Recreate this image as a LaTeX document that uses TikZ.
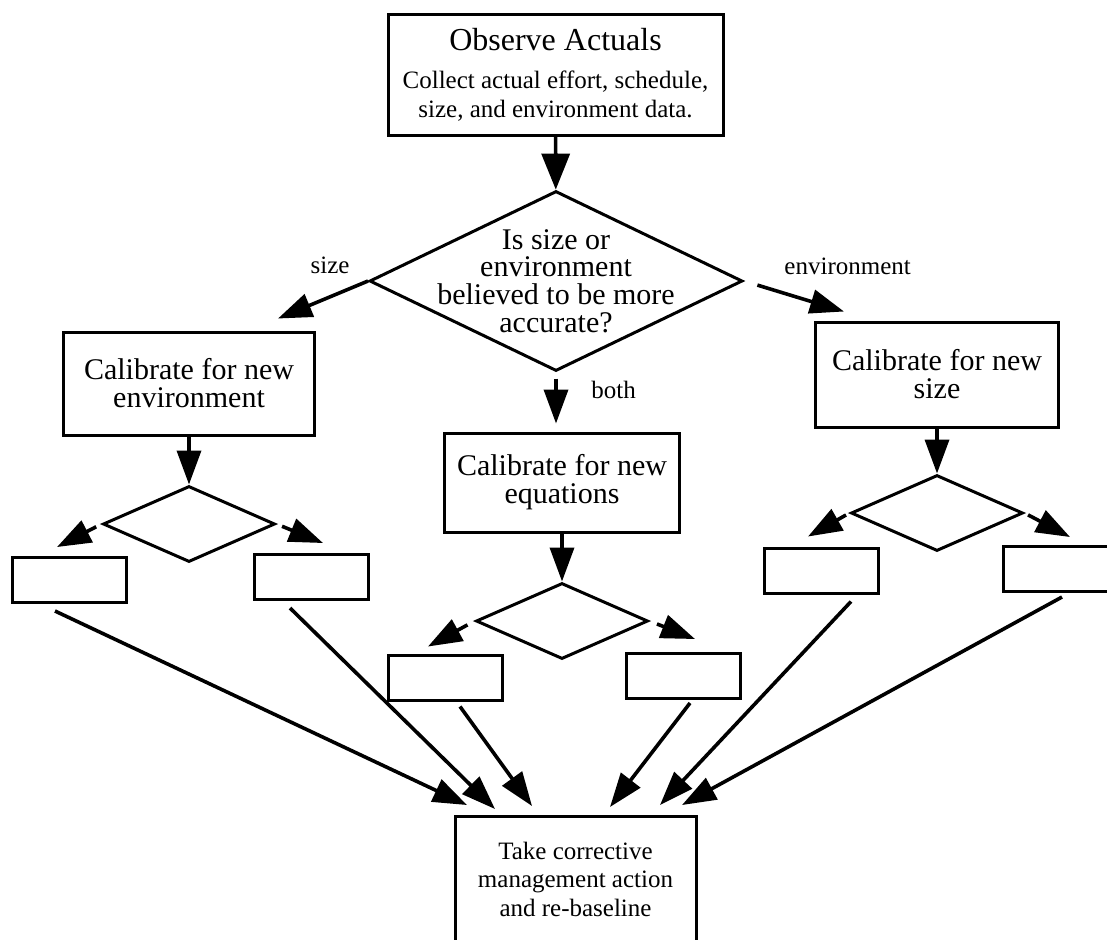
\documentclass[tikz,border=0pt]{standalone}
\usepackage{fontspec}
\setmainfont{Liberation Serif}
\usetikzlibrary{arrows.meta,shapes.geometric}

\begin{document}
\begin{tikzpicture}[x=0.5pt, y=-0.5pt,
  every node/.style={font=\fontsize{12.5}{14.25}\selectfont},
  box/.style={draw, line width=1.5pt, inner sep=0pt, align=center},
  calbox/.style={box, font=\fontsize{15}{14}\selectfont},
  emptybox/.style={box, minimum width=57pt, minimum height=22.5pt},
  decision/.style={draw, diamond, line width=1.5pt, inner sep=0pt},
  smalldec/.style={decision, minimum width=86pt, minimum height=38pt},
  arr/.style={-{Triangle[length=17pt,width=12pt]}, line width=1.8pt},
  lbl/.style={font=\fontsize{12.5}{14}\selectfont}]
  \useasboundingbox (0,0) rectangle (1107,939);
  % top box and main question
  \node[box, minimum width=167.5pt, minimum height=60.5pt] (obs) at (555.5,74.5)
    {{\fontsize{16}{16}\selectfont Observe Actuals}\\[5pt]Collect actual effort, schedule,\\size, and environment data.};
  \node[decision, minimum width=186.5pt, minimum height=90pt,
    label={[align=center, font=\fontsize{15}{13.8}\selectfont]center:{Is size or\\environment\\believed to be more\\accurate?}}] (q) at (556,281) {};
  % calibration boxes
  \node[calbox, minimum width=125.5pt, minimum height=51.5pt] (calenv) at (189,383.5) {Calibrate for new\\environment};
  \node[calbox, minimum width=117.5pt, minimum height=49.5pt] (caleq) at (562,482.5) {Calibrate for new\\equations};
  \node[calbox, minimum width=121.5pt, minimum height=52.5pt] (calsize) at (937,374.5) {Calibrate for new\\size};
  % small decisions
  \node[smalldec] (dL) at (189,524) {};
  \node[smalldec] (dM) at (562,621) {};
  \node[smalldec] (dR) at (937,513) {};
  % empty outcome boxes
  \node[emptybox] (L1) at (69,580) {};
  \node[emptybox] (L2) at (311.5,577) {};
  \node[emptybox] (M1) at (445,677.5) {};
  \node[emptybox] (M2) at (683.5,676) {};
  \node[emptybox] (R1) at (821,570.5) {};
  \node[emptybox] (R2) at (1060,569) {};
  % final action
  \node[box, minimum width=120.5pt, minimum height=62.5pt] (act) at (575.5,879)
    {Take corrective\\management action\\and re-baseline};
  % arrows
  \draw[arr, -{Triangle[length=18pt,width=14pt]}] (obs) -- (q);
  \draw[arr] (q.west) -- ([shift={(-19pt,6pt)}]calenv.north east)
    node[lbl, pos=0, anchor=base east, xshift=-5pt, yshift=4pt] {size};
  \draw[arr, shorten <=7pt] (q.east) -- ([shift={(15pt,4.5pt)}]calsize.north west)
    node[lbl, pos=0, anchor=base west, xshift=16pt, yshift=3.5pt] {environment};
  \draw[arr, shorten <=3pt, shorten >=4pt] (q.south) -- (q.south |- caleq.north)
    node[lbl, pos=0, anchor=base west, xshift=13.5pt, yshift=-13pt] {both};
  \draw[arr] (calenv) -- (dL);
  \draw[arr] (caleq) -- (dM);
  \draw[arr] (calsize) -- (dR);
  \draw[arr, shorten <=3pt] (dL.west) -- ([shift={(-6pt,4.5pt)}]L1.north);
  \draw[arr, shorten <=3pt] (dL.east) -- ([shift={(5.75pt,5pt)}]L2.north);
  \draw[arr, shorten <=4pt] (dM.west) -- ([shift={(-8.5pt,3.5pt)}]M1.north);
  \draw[arr, shorten <=4pt] (dM.east) -- ([shift={(5.75pt,6.5pt)}]M2.north);
  \draw[arr, shorten <=2pt] (dR.west) -- ([shift={(-6.5pt,5pt)}]R1.north);
  \draw[arr, shorten <=2pt] (dR.east) -- ([shift={(5pt,4pt)}]R2.north);
  \draw[arr] ([shift={(-7pt,-3.5pt)}]L1.south) -- ([shift={(-54.25pt,5pt)}]act.north);
  \draw[arr] ([shift={(-10.75pt,-3.5pt)}]L2.south) -- ([shift={(-40.25pt,3pt)}]act.north);
  \draw[arr] ([shift={(7.5pt,-2.5pt)}]M1.south) -- ([shift={(-21.75pt,4.5pt)}]act.north);
  \draw[arr] ([shift={(3.25pt,-1.5pt)}]M2.south) -- ([shift={(17.25pt,4pt)}]act.north);
  \draw[arr] ([shift={(15pt,-3.5pt)}]R1.south) -- ([shift={(42.25pt,5pt)}]act.north);
  \draw[arr] ([shift={(1pt,-2pt)}]R2.south) -- ([shift={(53.25pt,5pt)}]act.north);
\end{tikzpicture}
\end{document}
